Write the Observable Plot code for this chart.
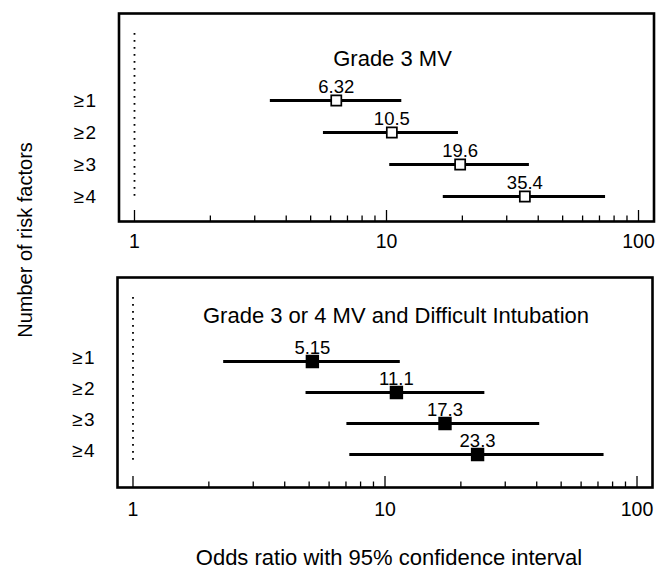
<!DOCTYPE html>
<html>
<head>
<meta charset="utf-8">
<script src="https://cdn.jsdelivr.net/npm/d3@7"></script>
<script src="https://cdn.jsdelivr.net/npm/@observablehq/plot@0.6"></script>
<style>
  body { margin: 0; background: #fff; }
  #wrap { position: relative; width: 669px; height: 571px; font-family: "Liberation Sans", Arial, sans-serif; color: #000; }
  .panel { position: absolute; left: 0; }
  .ytitle { position: absolute; left: 25px; top: 240px; transform: translate(-50%, -50%) rotate(-90deg); white-space: nowrap; font-size: 20px; }
  .xtitle { position: absolute; left: 389px; top: 558px; transform: translate(-50%, -50%); white-space: nowrap; font-size: 22px; }
</style>
</head>
<body>
<div id="wrap">
  <div id="p1" class="panel" style="top:0px"></div>
  <div id="p2" class="panel" style="top:262px"></div>
  <div class="ytitle">Number of risk factors</div>
  <div class="xtitle">Odds ratio with 95% confidence interval</div>
</div>
<script>
// ---- data ----
const factors = ["≥1", "≥2", "≥3", "≥4"];
const mvOR   = [6.32, 10.5, 19.6, 35.4];
const mvLow  = [3.46, 5.62, 10.3, 16.8];
const mvHigh = [11.5, 19.3, 36.9, 74.0];
const diOR   = [5.15, 11.1, 17.3, 23.3];
const diLow  = [2.29, 4.86, 7.06, 7.25];
const diHigh = [11.5, 24.9, 41.1, 74.0];
const majorTicks = [1, 10, 100];
const minorTicks = [2, 3, 4, 5, 6, 7, 8, 9, 20, 30, 40, 50, 60, 70, 80, 90];
const panelTitles = ["Grade 3 MV", "Grade 3 or 4 MV and Difficult Intubation"];

function rowsOf(or, lo, hi) {
  return factors.map((f, i) => ({factor: f, or: or[i], low: lo[i], high: hi[i]}));
}

function panel({rows, title, filled, marginLeft, marginRight, marginTop, marginBottom, height, yRange, titleDy, titleDx, labelDy, tickPad, dotBottom}) {
  const frameH = height - marginTop - marginBottom;
  return Plot.plot({
    width: 669,
    height,
    marginLeft, marginRight, marginTop, marginBottom,
    style: {fontFamily: "'Liberation Sans', Arial, sans-serif", color: "#000", background: "transparent"},
    x: {type: "log", domain: [0.868, 115.2]},
    y: {type: "point", domain: factors, range: yRange, padding: 0},
    marks: [
      Plot.ruleX([1], {insetTop: 20, insetBottom: dotBottom, stroke: "#000", strokeWidth: 1.8, strokeDasharray: "1.8,5.2"}),
      Plot.ruleX(minorTicks, {x: d => d, insetTop: frameH - 5.5, stroke: "#000", strokeWidth: 1.3}),
      Plot.ruleX(majorTicks, {x: d => d, insetTop: frameH - 11, stroke: "#000", strokeWidth: 1.3}),
      Plot.ruleY(rows, {y: "factor", x1: "low", x2: "high", stroke: "#000", strokeWidth: 3}),
      Plot.dot(rows, {x: "or", y: "factor", symbol: "square", r: filled ? 6.6 : 5.7, fill: filled ? "#000" : "#fff", stroke: "#000", strokeWidth: 1.7}),
      Plot.text(rows, {x: "or", y: "factor", text: d => String(d.or), dy: -13, fontSize: 18.5, fill: "#000"}),
      Plot.text([title], {frameAnchor: "top", dy: titleDy, dx: titleDx, fontSize: 22, fill: "#000"}),
      Plot.frame({stroke: "#000", strokeWidth: 2.6}),
      Plot.axisX({ticks: majorTicks, tickSize: 0, tickPadding: tickPad, tickFormat: d => String(d), fontSize: 19.5, label: null}),
      Plot.axisY({tickSize: 0, tickPadding: 23, fontSize: 19, label: null, dy: labelDy, tickFormat: d => d.replace("≥", "≥\u200a")})
    ]
  });
}

document.getElementById("p1").append(panel({
  rows: rowsOf(mvOR, mvLow, mvHigh), title: panelTitles[0], filled: false,
  marginLeft: 118.5, marginRight: 15.5, marginTop: 13, marginBottom: 41, height: 262,
  yRange: [100.3, 196.5], titleDy: 36.5, titleDx: 6, labelDy: 0, tickPad: 13, dotBottom: 20.5
}));
document.getElementById("p2").append(panel({
  rows: rowsOf(diOR, diLow, diHigh), title: panelTitles[1], filled: true,
  marginLeft: 117, marginRight: 17, marginTop: 15, marginBottom: 37, height: 262,
  yRange: [98, 192.7], titleDy: 29.5, titleDx: 11, labelDy: -4, tickPad: 15, dotBottom: 24
}));
</script>
</body>
</html>
